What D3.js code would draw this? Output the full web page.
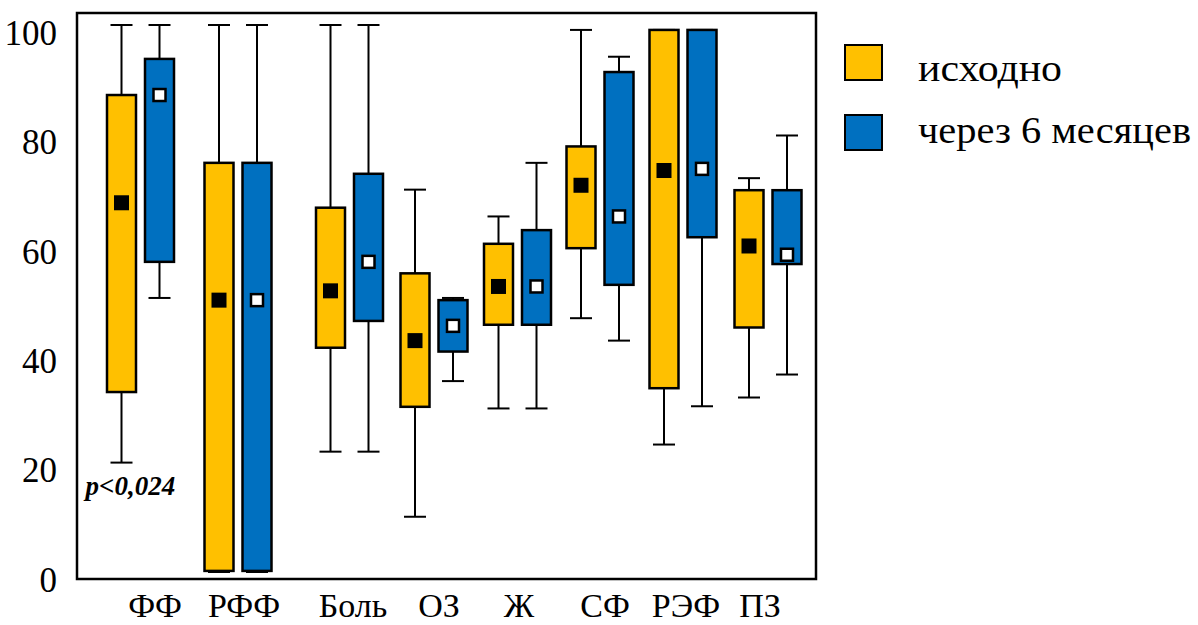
<!DOCTYPE html>
<html>
<head>
<meta charset="utf-8">
<script src="https://cdn.jsdelivr.net/npm/d3@7"></script>
<style>
  body { margin: 0; background: #fff; }
</style>
</head>
<body>
<div id="chart"></div>
<script>
// categories and series
const categories = ["ФФ", "РФФ", "Боль", "ОЗ", "Ж", "СФ", "РЭФ", "ПЗ"];
const seriesNames = ["исходно", "через 6 месяцев"];
const yTicks = [0, 20, 40, 60, 80, 100];

// box values per category, one array per series
const minBase    = [20.0, 0,    22.0, 10.1, 29.9, 46.4, 23.3, 31.9];
const q1Base     = [32.9, 0.2,  41.0, 30.2, 45.2, 59.2, 33.6, 44.7];
const medBase    = [67.5, 49.7, 51.4, 42.3, 52.2, 70.7, 73.4, 59.6];
const q3Base     = [87.2, 74.8, 66.6, 54.6, 60.0, 77.8, 99.1, 69.8];
const maxBase    = [100,  100,  100,  69.9, 65.0, 99.1, 99.1, 72.0];

const min6m      = [50.1, 0,    22.0, 34.9, 29.9, 42.3, 30.3, 36.1];
const q1_6m      = [56.7, 0.2,  45.9, 40.3, 45.2, 52.5, 61.2, 56.3];
const med6m      = [87.2, 49.7, 56.7, 45.0, 52.2, 65.0, 73.7, 58.0];
const q3_6m      = [93.8, 74.8, 72.8, 49.7, 62.5, 91.4, 99.1, 69.8];
const max6m      = [100,  100,  100,  50.1, 74.8, 94.2, 99.1, 79.8];

const note = "p<0,024";

// layout
const W = 1198, H = 625;
const plot = { left: 77, top: 13, right: 816, bottom: 579 };
// centres of each pair of boxes (the groups are not evenly spaced in the original)
const groupCentres = [140.5, 238, 349.5, 434, 517.5, 600, 683, 768];
const labelShift = [14.5, 6, 3.5, 5, 1.5, 5, 3, -8];
const colours = ["#FFC000", "#0070C0"];
const serif = '"Liberation Serif", "Times New Roman", serif';

const svg = d3.select("#chart").append("svg")
    .attr("width", W).attr("height", H)
    .style("font-family", serif);

const y = d3.scaleLinear().domain([0, 100]).range([572, 25]);
const xGroup = d3.scaleOrdinal(categories, groupCentres);
const xInner = d3.scaleBand().domain(seriesNames).range([-33.5, 33.5])
    .paddingInner(9 / 38).paddingOuter(0);

const boxes = [];
categories.forEach((c, i) => {
    boxes.push({ cat: c, s: 0, min: minBase[i], q1: q1Base[i], med: medBase[i], q3: q3Base[i], max: maxBase[i] });
    boxes.push({ cat: c, s: 1, min: min6m[i], q1: q1_6m[i], med: med6m[i], q3: q3_6m[i], max: max6m[i] });
});
const cx = d => xGroup(d.cat) + xInner(seriesNames[d.s]) + xInner.bandwidth() / 2;

// frame
svg.append("rect")
    .attr("x", plot.left).attr("y", plot.top)
    .attr("width", plot.right - plot.left).attr("height", plot.bottom - plot.top)
    .attr("fill", "none").attr("stroke", "#000").attr("stroke-width", 2.5);

// y axis labels
const yAxis = svg.append("g").attr("transform", `translate(${plot.left},0)`)
    .call(d3.axisLeft(y).tickValues(yTicks).tickSize(0).tickPadding(20));
yAxis.select(".domain").remove();
yAxis.selectAll("text")
    .attr("dy", "0.55em")
    .attr("fill", "#000")
    .style("font-family", serif)
    .style("font-size", "35px");

// whiskers
const g = svg.append("g");
g.selectAll("line.whisk").data(boxes).enter().append("line")
    .attr("class", "whisk")
    .attr("x1", cx).attr("x2", cx)
    .attr("y1", d => y(d.min)).attr("y2", d => y(d.max))
    .attr("stroke", "#000").attr("stroke-width", 2);

const capW = 22;
["min", "max"].forEach(k => {
    g.selectAll("line.cap-" + k).data(boxes).enter().append("line")
        .attr("class", "cap-" + k)
        .attr("x1", d => cx(d) - capW / 2).attr("x2", d => cx(d) + capW / 2)
        .attr("y1", d => y(d[k])).attr("y2", d => y(d[k]))
        .attr("stroke", "#000").attr("stroke-width", 2);
});

// boxes
g.selectAll("rect.box").data(boxes).enter().append("rect")
    .attr("class", "box")
    .attr("x", d => cx(d) - xInner.bandwidth() / 2)
    .attr("width", xInner.bandwidth())
    .attr("y", d => y(d.q3))
    .attr("height", d => y(d.q1) - y(d.q3))
    .attr("fill", d => colours[d.s])
    .attr("stroke", "#000").attr("stroke-width", 2.5);

// median markers
g.selectAll("rect.med").data(boxes).enter().append("rect")
    .attr("class", "med")
    .attr("x", d => cx(d) - (d.s ? 6 : 7.5))
    .attr("y", d => y(d.med) - (d.s ? 6 : 7.5))
    .attr("width", d => d.s ? 12 : 15)
    .attr("height", d => d.s ? 12 : 15)
    .attr("fill", d => d.s ? "#fff" : "#000")
    .attr("stroke", "#000").attr("stroke-width", d => d.s ? 2.5 : 0);

// category labels
svg.append("g").selectAll("text").data(categories).enter().append("text")
    .attr("x", (d, i) => xGroup(d) + labelShift[i])
    .attr("y", 617)
    .attr("text-anchor", "middle")
    .style("font-size", "34px")
    .text(d => d);

// p-value note
svg.append("text")
    .attr("x", xGroup("ФФ") - 55)
    .attr("y", y(14))
    .style("font-size", "27px")
    .style("font-weight", "bold")
    .style("font-style", "italic")
    .text(note);

// legend
const legend = svg.append("g").attr("transform", "translate(845,45)");
const li = legend.selectAll("g").data(seriesNames).enter().append("g")
    .attr("transform", (d, i) => `translate(0,${i * 70})`);
li.append("rect")
    .attr("width", 37).attr("height", 35)
    .attr("fill", (d, i) => colours[i])
    .attr("stroke", "#000").attr("stroke-width", 2);
li.append("text")
    .attr("x", 73).attr("y", (d, i) => i ? 28 : 36)
    .attr("textLength", (d, i) => i ? 273 : 144)
    .attr("lengthAdjust", "spacingAndGlyphs")
    .style("font-size", "38px")
    .text(d => d);
</script>
</body>
</html>
